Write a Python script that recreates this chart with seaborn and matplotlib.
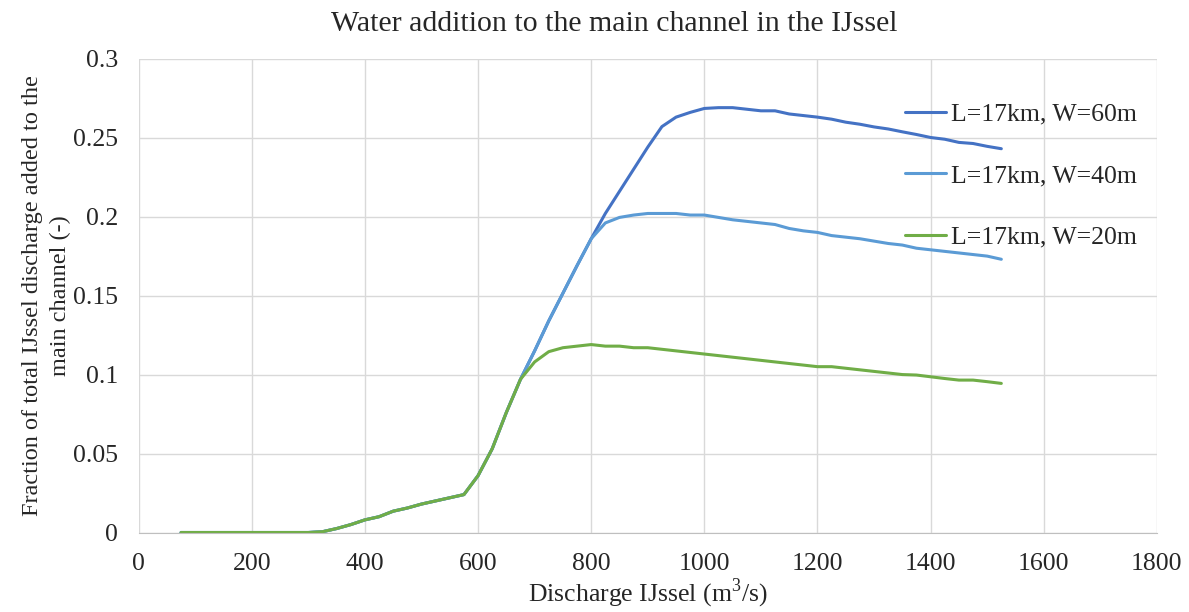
import matplotlib
matplotlib.use("Agg")
import matplotlib.pyplot as plt
import seaborn as sns
import pandas as pd
from matplotlib.ticker import FuncFormatter

discharge = [75, 100, 150, 200, 250, 300, 325, 350, 375, 400, 425, 450, 475, 500, 525, 550, 575,
             600, 625, 650, 675, 700, 725, 750, 775, 800, 825, 850, 875, 900, 925, 950, 975, 1000,
             1025, 1050, 1075, 1100, 1125, 1150, 1175, 1200, 1225, 1250, 1275, 1300, 1325, 1350,
             1375, 1400, 1425, 1450, 1475, 1500, 1525]

w20 = [0, 0, 0, 0, 0, 0, 0.0005, 0.0025, 0.005, 0.008, 0.010, 0.0135, 0.0155, 0.018, 0.020, 0.022, 0.024,
       0.036, 0.053, 0.076, 0.097, 0.108, 0.1145, 0.117, 0.118, 0.119, 0.118, 0.118, 0.117, 0.117, 0.116,
       0.115, 0.114, 0.113, 0.112, 0.111, 0.110, 0.109, 0.108, 0.107, 0.106, 0.105, 0.105, 0.104, 0.103,
       0.102, 0.101, 0.100, 0.0997, 0.0986, 0.0975, 0.0965, 0.0965, 0.0955, 0.0944]

w40 = [0, 0, 0, 0, 0, 0, 0.0005, 0.0025, 0.005, 0.008, 0.010, 0.0135, 0.0155, 0.018, 0.020, 0.022, 0.024,
       0.036, 0.053, 0.076, 0.097, 0.115, 0.134, 0.1515, 0.169, 0.186, 0.196, 0.1995, 0.201, 0.202, 0.202,
       0.202, 0.201, 0.201, 0.1995, 0.198, 0.197, 0.196, 0.195, 0.1925, 0.191, 0.190, 0.188, 0.187, 0.186,
       0.1845, 0.183, 0.182, 0.180, 0.179, 0.178, 0.177, 0.176, 0.175, 0.173]

w60 = [0, 0, 0, 0, 0, 0, 0.0005, 0.0025, 0.005, 0.008, 0.010, 0.0135, 0.0155, 0.018, 0.020, 0.022, 0.024,
       0.036, 0.053, 0.076, 0.097, 0.115, 0.134, 0.1515, 0.169, 0.186, 0.202, 0.216, 0.230, 0.244, 0.257,
       0.263, 0.266, 0.2685, 0.269, 0.269, 0.268, 0.267, 0.267, 0.265, 0.264, 0.263, 0.2617, 0.2598, 0.2585,
       0.2568, 0.2555, 0.2537, 0.252, 0.2501, 0.249, 0.247, 0.2463, 0.2445, 0.243]

series_names = ["L=17km, W=60m", "L=17km, W=40m", "L=17km, W=20m"]
series_values = [w60, w40, w20]
colors = ["#4472C4", "#5B9BD5", "#70AD47"]

rows = []
for name, vals in zip(series_names, series_values):
    for x, y in zip(discharge, vals):
        rows.append({"Discharge": x, "Fraction": y, "Series": name})
df = pd.DataFrame(rows)

sns.set_style("white")
plt.rcParams["font.family"] = ["Liberation Serif", "DejaVu Serif"]
plt.rcParams["mathtext.fontset"] = "custom"
plt.rcParams["mathtext.rm"] = "Liberation Serif"

fig = plt.figure(figsize=(11.89, 6.12), dpi=100)
ax = fig.add_axes([0.1166, 0.1299, 0.8564, 0.7742])

sns.lineplot(data=df, x="Discharge", y="Fraction", hue="Series", hue_order=series_names,
             palette=colors, linewidth=2.2, ax=ax, sort=False)

ax.set_xlim(0, 1800)
ax.set_ylim(0, 0.3)
ax.set_xticks(range(0, 1801, 200))
ax.set_yticks([0, 0.05, 0.1, 0.15, 0.2, 0.25, 0.3])
ax.yaxis.set_major_formatter(FuncFormatter(lambda v, p: ("%g" % round(v, 3))))
ax.grid(True, color="#D9D9D9", linewidth=1)
ax.set_axisbelow(True)
for s in ["top", "right", "left"]:
    ax.spines[s].set_visible(False)
ax.spines["bottom"].set_color("#BFBFBF")
ax.tick_params(axis="both", labelsize=18.5, length=0, colors="#262626")
ax.tick_params(axis="y", pad=15)
ax.tick_params(axis="x", pad=15)

ax.set_xlabel("Discharge IJssel (m$^3$/s)", fontsize=18.5, labelpad=1, color="#262626")
ax.set_ylabel("Fraction of total IJssel discharge added to the\nmain channel (-)", fontsize=17.5,
              labelpad=1, color="#262626", linespacing=1.45)
ax.set_title("Water addition to the main channel in the IJssel", fontsize=21.5, pad=20,
             color="#262626", x=0.4668)

leg = ax.legend(loc="upper left", bbox_to_anchor=(0.7526, 0.907), frameon=False, fontsize=18.5,
                labelspacing=1.5, handlelength=1.6, handletextpad=0.2, borderpad=0, borderaxespad=0)
for line in leg.get_lines():
    line.set_linewidth(2.2)
for t in leg.get_texts():
    t.set_color("#262626")

fig.savefig("out.png", dpi=100)
